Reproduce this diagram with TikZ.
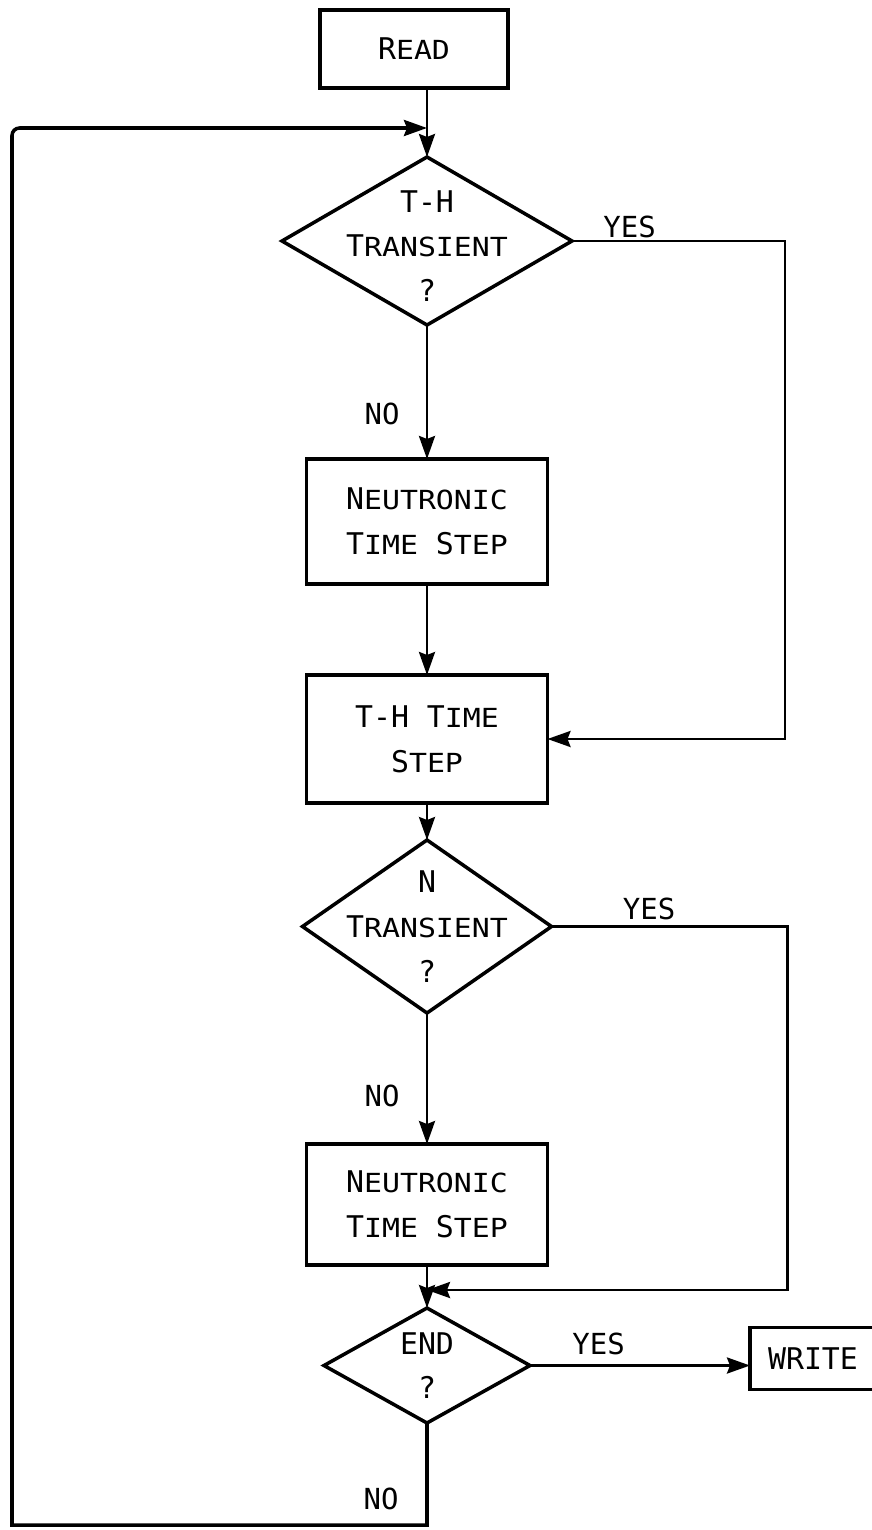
\documentclass[tikz,border=0pt]{standalone}
\usepackage{fontspec}
\setmainfont{DejaVu Sans Mono}
\usetikzlibrary{positioning, arrows.meta, shapes.geometric, calc}
\newcommand{\chartfont}{\fontsize{17pt}{25.5pt}\selectfont}
\newcommand{\sccaps}[2]{#1\scalebox{1}[0.88]{#2}}
\tikzset{
    process/.style={rectangle, draw, line width=2pt, outer sep=0pt, minimum width=4.82cm, minimum height=2.5cm, align=center, font=\chartfont},
    decision/.style={diamond, draw, line width=2pt, outer sep=0pt, inner sep=0pt},
    qtext/.style={align=center, font=\chartfont, inner sep=0pt},
    answer/.style={font=\fontsize{16.5pt}{20pt}\selectfont, inner sep=0pt},
    flow/.style={-{Stealth[length=0.46cm, width=0.32cm, inset=0.06cm]}, line width=1.6pt},
}

\begin{document}
\begin{tikzpicture}[node distance=0.8cm and 0.5cm]
\useasboundingbox (0,0) rectangle (17.44,-30.6);
\clip (0,0) rectangle (17.44,-30.6);
\node[process, minimum width=3.76cm, minimum height=1.56cm] (read) at (8.28,-0.98) {\sccaps{R}{EAD}};
\node[decision, minimum width=5.8cm, minimum height=3.36cm, below=1.38cm of read, xshift=0.26cm] (q1) {};
\node[qtext, yshift=-0.1cm] (q1t) at (q1) {T-H\\\sccaps{T}{RANSIENT}\\?};
\node[process, below=2.68cm of q1] (n1) {\sccaps{N}{EUTRONIC}\\\sccaps{T}{IME} \sccaps{S}{TEP}};
\node[process, minimum height=2.56cm, below=1.82cm of n1] (th) {T-H \sccaps{T}{IME}\\\sccaps{S}{TEP}};
\node[decision, minimum width=4.98cm, minimum height=3.46cm, below=0.74cm of th] (q2) {};
\node[qtext] (q2t) at (q2) {N\\\sccaps{T}{RANSIENT}\\?};
\node[process, minimum height=2.42cm, below=2.62cm of q2] (n2) {\sccaps{N}{EUTRONIC}\\\sccaps{T}{IME} \sccaps{S}{TEP}};
\node[decision, minimum width=4.12cm, minimum height=2.3cm, below=0.86cm of n2] (q3) {};
\node[qtext] (q3t) at (q3) {END\\?};
\node[process, minimum width=2.52cm, minimum height=1.24cm, right=4.4cm of q3, yshift=0.14cm] (write) {WRITE};
% corners of the two side paths and the loop back
\coordinate (c1) at ($(read.south -| q1.north)+(0,-0.8)$);
\coordinate[right=4.26cm of q1.east] (c6);
\coordinate[right=4.72cm of q2.east] (c7);
\coordinate[below=0.5cm of n2.south] (c8);
\coordinate[below=2.04cm of q3.south] (c3);
\coordinate[left=8.3cm of c3] (c4);
\coordinate (c5) at (c4 |- c1);
\draw[flow] (read.south -| q1.north) -- (q1.north);
\draw[flow] (q1.south) -- (n1.north);
\draw[flow] (n1.south) -- (th.north);
\draw[flow] (th.south) -- (q2.north);
\draw[flow] (q2.south) -- (n2.north);
\draw[flow] (n2.south) -- (q3.north);
\draw[flow] (q1.east) -- (c6) |- (th.east);
\draw[flow] (q2.east) -- (c7) |- (c8);
\draw[flow] (q3.east) -- (q3.east -| write.west);
\draw[flow, line width=2pt] (q3.south) -- (c3) -- (c4) [rounded corners=0.15cm] -- (c5) -- (c1);
\node[answer, above right=0.06cm and 0.62cm of q1.east] (yes1) {YES};
\node[answer, above right=0.12cm and 1.42cm of q2.east] (yes2) {YES};
\node[answer, above right=0.2cm and 0.84cm of q3.east] (yes3) {YES};
\node[answer, above left=0.68cm and 0.54cm of n1.north] (no1) {NO};
\node[answer, above left=0.74cm and 0.54cm of n2.north] (no2) {NO};
\node[answer, above left=0.3cm and 0.56cm of c3] (no3) {NO};
\end{tikzpicture}
\end{document}
